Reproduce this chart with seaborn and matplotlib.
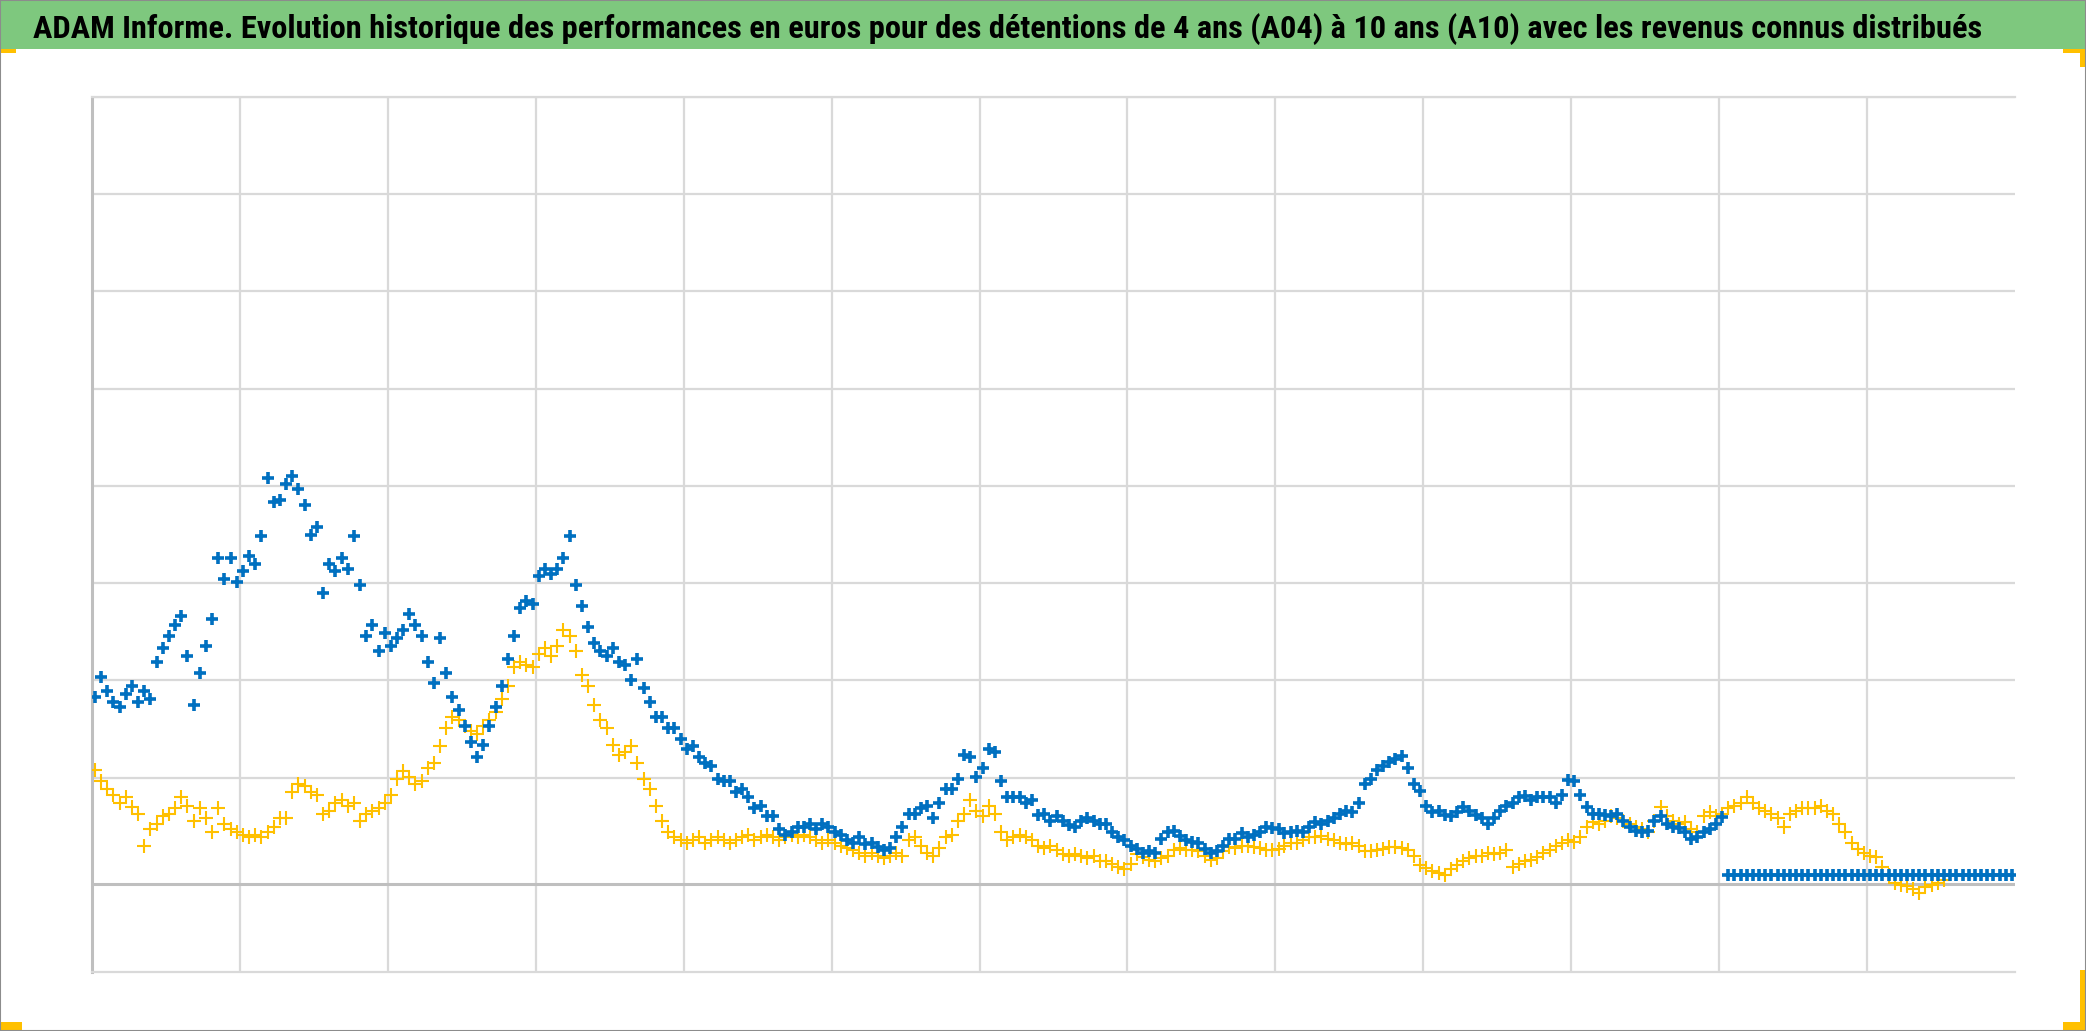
import pandas as pd
import matplotlib.pyplot as plt
import matplotlib.patches as mpatches
from matplotlib import font_manager
import seaborn as sns

W, H = 2086, 1031

TITRE = ("ADAM Informe. Evolution historique des performances en euros pour des "
         "détentions de 4 ans (A04) à 10 ans (A10) avec les revenus connus distribués")

# un point tous les deux mois a partir de fevrier 1970
DEBUT = '1970-02-01'
PAS = '2MS'

# detention 4 ans (jaune)
a04 = [
    1.08, 0.96, 0.88, 0.82, 0.74, 0.80, 0.70, 0.63, 0.30, 0.47,
    0.52, 0.60, 0.63, 0.69, 0.80, 0.71, 0.55, 0.69, 0.58, 0.44,
    0.69, 0.52, 0.47, 0.44, 0.41, 0.39, 0.41, 0.39, 0.44, 0.49,
    0.58, 0.58, 0.85, 0.93, 0.91, 0.85, 0.82, 0.63, 0.66, 0.74,
    0.77, 0.71, 0.74, 0.55, 0.63, 0.66, 0.69, 0.74, 0.82, 0.99,
    1.07, 1.01, 0.93, 0.96, 1.10, 1.15, 1.32, 1.51, 1.62, 1.59,
    1.53, 1.48, 1.45, 1.53, 1.59, 1.67, 1.81, 1.94, 2.14, 2.19,
    2.16, 2.14, 2.27, 2.33, 2.25, 2.35, 2.52, 2.46, 2.30, 2.05,
    1.94, 1.75, 1.59, 1.51, 1.34, 1.23, 1.26, 1.32, 1.15, 0.99,
    0.88, 0.71, 0.55, 0.44, 0.39, 0.36, 0.33, 0.36, 0.39, 0.33,
    0.36, 0.39, 0.36, 0.33, 0.36, 0.39, 0.41, 0.36, 0.39, 0.41,
    0.39, 0.36, 0.39, 0.41, 0.39, 0.41, 0.39, 0.36, 0.33, 0.36,
    0.33, 0.30, 0.28, 0.25, 0.22, 0.19, 0.22, 0.19, 0.17, 0.19,
    0.22, 0.19, 0.36, 0.39, 0.30, 0.22, 0.19, 0.28, 0.39, 0.41,
    0.55, 0.63, 0.77, 0.66, 0.60, 0.71, 0.63, 0.44, 0.36, 0.39,
    0.41, 0.39, 0.36, 0.30, 0.28, 0.30, 0.25, 0.21, 0.19, 0.21,
    0.19, 0.17, 0.19, 0.14, 0.14, 0.11, 0.08, 0.06, 0.11, 0.21,
    0.18, 0.15, 0.14, 0.17, 0.19, 0.25, 0.28, 0.25, 0.25, 0.24,
    0.19, 0.15, 0.17, 0.24, 0.29, 0.28, 0.30, 0.30, 0.29, 0.28,
    0.25, 0.25, 0.26, 0.30, 0.33, 0.33, 0.36, 0.39, 0.39, 0.40,
    0.37, 0.36, 0.33, 0.32, 0.33, 0.30, 0.24, 0.24, 0.25, 0.26,
    0.29, 0.29, 0.28, 0.25, 0.19, 0.10, 0.07, 0.04, 0.02, 0.00,
    0.06, 0.10, 0.14, 0.17, 0.19, 0.19, 0.22, 0.21, 0.22, 0.25,
    0.08, 0.11, 0.14, 0.15, 0.18, 0.22, 0.25, 0.30, 0.33, 0.36,
    0.34, 0.39, 0.49, 0.54, 0.52, 0.55, 0.60, 0.58, 0.55, 0.52,
    0.49, 0.47, 0.44, 0.55, 0.70, 0.60, 0.55, 0.52, 0.54, 0.47,
    0.44, 0.60, 0.65, 0.60, 0.63, 0.69, 0.71, 0.74, 0.80, 0.74,
    0.69, 0.66, 0.63, 0.58, 0.49, 0.63, 0.66, 0.69, 0.69, 0.69,
    0.71, 0.66, 0.63, 0.52, 0.44, 0.33, 0.26, 0.22, 0.19, 0.18,
    0.08, 0.00, -0.08, -0.11, -0.12, -0.15, -0.19, -0.13, -0.11, -0.08,
    -0.05,
]

# detention 10 ans (bleu)
a10 = [
    1.83, 2.03, 1.89, 1.78, 1.73, 1.86, 1.94, 1.78, 1.89, 1.81,
    2.19, 2.33, 2.46, 2.57, 2.66, 2.25, 1.75, 2.08, 2.35, 2.63,
    3.26, 3.04, 3.26, 3.01, 3.12, 3.28, 3.20, 3.48, 4.08, 3.83,
    3.86, 4.02, 4.10, 3.97, 3.80, 3.50, 3.58, 2.90, 3.20, 3.12,
    3.26, 3.15, 3.48, 2.98, 2.46, 2.57, 2.30, 2.49, 2.35, 2.44,
    2.52, 2.68, 2.57, 2.46, 2.19, 1.97, 2.44, 2.08, 1.83, 1.70,
    1.53, 1.37, 1.21, 1.34, 1.53, 1.73, 1.94, 2.22, 2.46, 2.74,
    2.82, 2.79, 3.07, 3.15, 3.09, 3.15, 3.26, 3.48, 2.98, 2.76,
    2.55, 2.38, 2.30, 2.25, 2.33, 2.19, 2.16, 2.00, 2.22, 1.92,
    1.78, 1.62, 1.62, 1.51, 1.51, 1.40, 1.29, 1.32, 1.21, 1.15,
    1.12, 0.99, 0.96, 0.96, 0.85, 0.88, 0.80, 0.69, 0.71, 0.60,
    0.60, 0.47, 0.41, 0.44, 0.49, 0.49, 0.52, 0.47, 0.52, 0.49,
    0.44, 0.41, 0.36, 0.33, 0.39, 0.32, 0.33, 0.29, 0.25, 0.28,
    0.39, 0.49, 0.63, 0.63, 0.69, 0.71, 0.58, 0.74, 0.88, 0.88,
    0.99, 1.23, 1.21, 1.01, 1.10, 1.29, 1.26, 0.96, 0.80, 0.80,
    0.80, 0.74, 0.77, 0.62, 0.63, 0.55, 0.60, 0.55, 0.51, 0.49,
    0.55, 0.58, 0.55, 0.52, 0.52, 0.44, 0.39, 0.36, 0.30, 0.26,
    0.22, 0.24, 0.22, 0.37, 0.44, 0.45, 0.40, 0.36, 0.34, 0.33,
    0.26, 0.22, 0.24, 0.30, 0.37, 0.37, 0.43, 0.39, 0.41, 0.44,
    0.49, 0.48, 0.47, 0.43, 0.44, 0.45, 0.44, 0.49, 0.54, 0.52,
    0.55, 0.58, 0.63, 0.66, 0.65, 0.74, 0.93, 0.99, 1.08, 1.12,
    1.16, 1.19, 1.22, 1.10, 0.93, 0.86, 0.71, 0.65, 0.66, 0.62,
    0.60, 0.65, 0.70, 0.66, 0.62, 0.58, 0.52, 0.58, 0.66, 0.71,
    0.74, 0.80, 0.81, 0.77, 0.80, 0.80, 0.80, 0.74, 0.82, 0.97,
    0.96, 0.82, 0.70, 0.63, 0.63, 0.62, 0.60, 0.63, 0.55, 0.49,
    0.45, 0.44, 0.45, 0.55, 0.60, 0.52, 0.49, 0.48, 0.44, 0.37,
    0.39, 0.44, 0.47, 0.52, 0.59,
]

# A10 pas encore disponible : valeur posee a 0
a10_sans_donnees = [
    0.0, 0.0, 0.0, 0.0, 0.0, 0.0, 0.0, 0.0, 0.0, 0.0,
    0.0, 0.0, 0.0, 0.0, 0.0, 0.0, 0.0, 0.0, 0.0, 0.0,
    0.0, 0.0, 0.0, 0.0, 0.0, 0.0, 0.0, 0.0, 0.0, 0.0,
    0.0, 0.0, 0.0, 0.0, 0.0, 0.0, 0.0, 0.0, 0.0, 0.0,
    0.0, 0.0, 0.0, 0.0, 0.0, 0.0, 0.0,
]

bornes_x = ('1970-01-01', '2022-01-01')
annees_grille = [1974, 1978, 1982, 1986, 1990, 1994, 1998, 2002, 2006, 2010, 2014, 2018]
niveaux_grille = [1, 2, 3, 4, 5, 6, 7, 8]
axe_horizontal = -0.1

JAUNE = '#FFC000'
BLEU = '#0070C0'
VERT = '#7ec87e'
GRILLE = '#d9d9d9'

sns.set_style('white')
plt.rcParams['font.family'] = ['Liberation Sans', 'DejaVu Sans']


def police_titre():
    # une police etroite en gras si le systeme en a une (le titre d'origine est en Calibri)
    voulues = ['Liberation Sans Narrow', 'Roboto Condensed', 'Open Sans Condensed',
               'DejaVu Sans Condensed', 'Noto Sans Condensed', 'Noto Sans SemiCondensed']
    polices = font_manager.fontManager.ttflist
    for nom in voulues:
        for f in polices:
            if f.name == nom and f.weight in ('bold', 700) and f.style == 'normal':
                return font_manager.FontProperties(fname=f.fname)
    for f in polices:
        etroite = ('Narrow' in f.name or 'Condensed' in f.name or 'condensed' in str(f.stretch))
        if etroite and f.weight in ('bold', 700) and f.style == 'normal' and 'Mono' not in f.name:
            return font_manager.FontProperties(fname=f.fname)
    for f in polices:
        if f.name == 'DejaVu Sans' and 'condensed' in str(f.stretch) and f.weight in ('bold', 700):
            return font_manager.FontProperties(fname=f.fname)
    return font_manager.FontProperties(family=['Roboto', 'Liberation Sans'], weight='bold')


df04 = pd.DataFrame({'date': pd.date_range(DEBUT, periods=len(a04), freq=PAS), 'perf': a04})
a10_tout = a10 + a10_sans_donnees
df10 = pd.DataFrame({'date': pd.date_range(DEBUT, periods=len(a10_tout), freq=PAS), 'perf': a10_tout})

fig = plt.figure(figsize=(W / 100, H / 100), dpi=100)
ax = fig.add_axes([92 / W, 1 - 972 / H, (2015 - 92) / W, (972 - 97) / H])

sns.scatterplot(data=df04, x='date', y='perf', marker='+', s=95, linewidth=1.5,
                color=JAUNE, ax=ax, zorder=3)
sns.scatterplot(data=df10, x='date', y='perf', marker='+', s=75, linewidth=2.6,
                color=BLEU, ax=ax, zorder=4)

ax.set_xlim(pd.Timestamp(bornes_x[0]), pd.Timestamp(bornes_x[1]))
ax.set_ylim(-1, 8)
ax.set_xticks(pd.to_datetime([f'{a}-01-01' for a in annees_grille]))
ax.set_yticks(niveaux_grille)
ax.grid(True, color=GRILLE, linewidth=1.6)
ax.set_axisbelow(True)
ax.tick_params(length=0, labelbottom=False, labelleft=False)
ax.set_xlabel('')
ax.set_ylabel('')
ax.axhline(axe_horizontal, color='#bfbfbf', linewidth=2.2, zorder=2)

ax.spines['left'].set_color('#bfbfbf')
ax.spines['left'].set_linewidth(2.2)
for s in ('bottom', 'top'):
    ax.spines[s].set_color(GRILLE)
    ax.spines[s].set_linewidth(1.6)
ax.spines['right'].set_visible(False)


def rect_px(x0, y0, x1, y1, color):
    # rectangle en pixels de la figure (origine en haut a gauche)
    fig.add_artist(mpatches.Rectangle((x0 / W, 1 - y1 / H), (x1 - x0) / W, (y1 - y0) / H,
                                      transform=fig.transFigure, facecolor=color,
                                      edgecolor='none', zorder=0))


# bandeau titre et marques de selection
rect_px(0, 0, W, 49, VERT)
rect_px(0, 49, 16, 53, JAUNE)
rect_px(0, 1022, 22, H, JAUNE)
rect_px(2063, 49, W, 53, JAUNE)
rect_px(2080, 49, W, 67, JAUNE)
rect_px(2080, 970, W, H, JAUNE)
rect_px(2063, 1022, W, H, JAUNE)
fig.add_artist(mpatches.Rectangle((0, 0), 1, 1, transform=fig.transFigure, fill=False,
                                  edgecolor='#8c8c8c', linewidth=1.5, zorder=5))

titre = fig.text(33 / W, 1 - 38 / H, TITRE, fontproperties=police_titre(),
                 color='black', ha='left', va='baseline')
titre.set_fontsize(22)
fig.canvas.draw()
largeur = titre.get_window_extent(fig.canvas.get_renderer()).width
titre.set_fontsize(min(22 * (1980 - 33) / largeur, 30))

fig.savefig('out.png', dpi=100)
